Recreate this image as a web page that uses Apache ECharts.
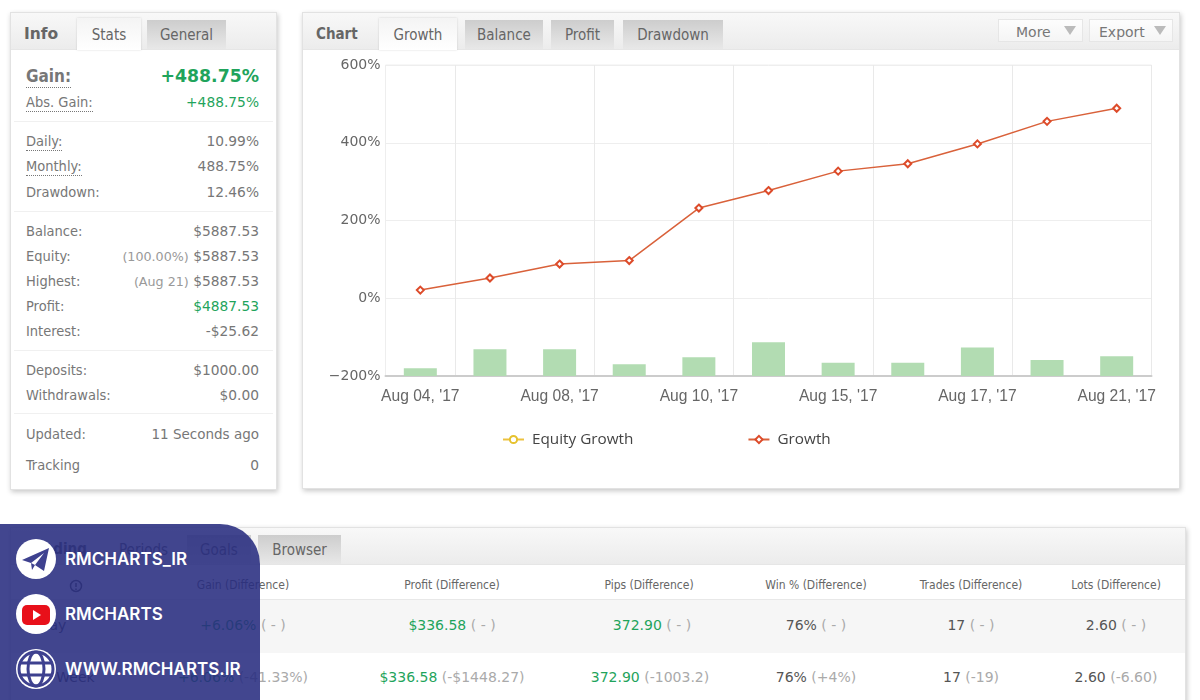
<!DOCTYPE html>
<html lang="en">

<head>
    <meta charset="UTF-8">
    <title>Growth</title>
    <script src="https://cdn.jsdelivr.net/npm/echarts@6/dist/echarts.min.js"></script>
    <style>
        html, body { margin: 0; padding: 0; width: 1200px; height: 700px; overflow: hidden; background: #fff; }
        body { font-family: "DejaVu Sans Condensed", "DejaVu Sans", sans-serif; color: #777; font-size: 14.5px; }
        .panel { position: absolute; background: #fff; border: 1px solid #e2e2e2; box-shadow: 1px 2px 5px rgba(0,0,0,.22); box-sizing: border-box; }
        .head { position: absolute; left: 0; right: 0; top: 0; height: 36px; background: linear-gradient(#f8f8f8, #ececec); border-bottom: 1px solid #e6e6e6; }
        .title { position: absolute; top: 12px; font-weight: bold; color: #666; font-size: 15px; }
        .tab { position: absolute; top: 7px; height: 29px; line-height: 30px; text-align: center; color: #666; background: linear-gradient(#cdcdcd, #e8e8e8); font-size: 15px; }
        .tab.on { top: 5px; height: 32px; line-height: 34px; background: linear-gradient(#f4f4f4, #fff); box-shadow: 0 0 2px rgba(0,0,0,.15); }
        .btn { position: absolute; top: 6px; height: 23px; line-height: 24px; background: linear-gradient(#fdfdfd, #f5f5f5); border: 1px solid #e6e6e6; box-sizing: border-box; font-family: "DejaVu Sans", sans-serif; font-size: 14px; color: #777; padding-left: 17px; }
        .btn i { position: absolute; right: 6px; top: 6px; border: 6px solid transparent; border-top: 9px solid #bbb; border-bottom: 0; }
        .row { position: absolute; left: 15px; right: 17px; height: 20px; line-height: 20px; }
        .row b { font-weight: normal; }
        .row span { position: absolute; right: 0; top: 0; color: #777; white-space: nowrap; font-family: "DejaVu Sans", sans-serif; font-size: 13.8px; }
        .row em { font-style: normal; color: #999; font-size: 12.7px; }
        .dot { border-bottom: 1px dotted #777; padding-bottom: 1px; }
        .green { color: #1fa45c !important; }
        .mute { color: #aaa; }
        .sep { position: absolute; left: 3px; right: 3px; height: 1px; background: #f0f0f0; }
        .cell { position: absolute; transform: translateX(-50%); white-space: nowrap; color: #555; font-family: "DejaVu Sans", sans-serif; }
        .th { font-family: "DejaVu Sans Condensed", sans-serif; font-size: 12px; color: #666; top: 50px; }
        .r1 { top: 89px; font-size: 14px; }
        .r2 { top: 141px; font-size: 14px; }
        #badge { position: absolute; left: 0; top: 524px; width: 260px; height: 176px; background: rgba(40, 44, 128, .88); border-top-right-radius: 40px; }
        .link { position: absolute; left: 65px; color: #fff; font-family: Inter, Roboto, sans-serif; font-weight: 600; font-size: 17px; white-space: nowrap; }
        .ico { position: absolute; left: 16px; width: 40px; height: 40px; }
    </style>
</head>

<body>
    <!-- info panel -->
    <div class="panel" style="left:10px;top:12px;width:267px;height:478px;">
        <div class="head"></div>
        <div class="title" style="left:13px;font-family:'DejaVu Sans';font-size:15.5px;">Info</div>
        <div class="tab on" style="left:66px;width:64px;">Stats</div>
        <div class="tab" style="left:136px;width:79px;">General</div>

        <div class="row" style="top:53px;font-size:17px;"><b class="dot" style="font-weight:bold;">Gain:</b><span class="green" style="font-weight:bold;font-size:17.3px;">+488.75%</span></div>
        <div class="row" style="top:79px;"><b class="dot">Abs. Gain:</b><span class="green">+488.75%</span></div>
        <div class="sep" style="top:108px;"></div>
        <div class="row" style="top:118px;"><b class="dot">Daily:</b><span>10.99%</span></div>
        <div class="row" style="top:143px;"><b class="dot">Monthly:</b><span>488.75%</span></div>
        <div class="row" style="top:169px;"><b>Drawdown:</b><span>12.46%</span></div>
        <div class="sep" style="top:198px;"></div>
        <div class="row" style="top:208px;"><b>Balance:</b><span>$5887.53</span></div>
        <div class="row" style="top:233px;"><b>Equity:</b><span><em>(100.00%)</em> $5887.53</span></div>
        <div class="row" style="top:258px;"><b>Highest:</b><span><em class="mute">(Aug 21)</em> $5887.53</span></div>
        <div class="row" style="top:283px;"><b>Profit:</b><span class="green">$4887.53</span></div>
        <div class="row" style="top:308px;"><b>Interest:</b><span>-$25.62</span></div>
        <div class="sep" style="top:337px;"></div>
        <div class="row" style="top:347px;"><b>Deposits:</b><span>$1000.00</span></div>
        <div class="row" style="top:372px;"><b>Withdrawals:</b><span>$0.00</span></div>
        <div class="sep" style="top:400px;"></div>
        <div class="row" style="top:411px;"><b>Updated:</b><span style="font-size:13.5px;">11 Seconds ago</span></div>
        <div class="row" style="top:442px;"><b>Tracking</b><span>0</span></div>
    </div>

    <!-- chart panel -->
    <div class="panel" style="left:302px;top:12px;width:878px;height:477px;">
        <div class="head"></div>
        <div class="title" style="left:13px;">Chart</div>
        <div class="tab on" style="left:76px;width:78px;">Growth</div>
        <div class="tab" style="left:162px;width:78px;">Balance</div>
        <div class="tab" style="left:248px;width:63px;">Profit</div>
        <div class="tab" style="left:320px;width:100px;">Drawdown</div>
        <div class="btn" style="left:695px;width:85px;">More<i></i></div>
        <div class="btn" style="left:786px;width:84px;padding-left:9px;">Export<i></i></div>
    </div>
    <div id="curve_show" style="position:absolute;left:302px;top:50px;width:878px;height:438px;"></div>

    <!-- trading panel -->
    <div class="panel" style="left:10px;top:527px;width:1176px;height:190px;">
        <div class="head"></div>
        <div class="title" style="left:19px;">Trading</div>
        <div class="tab" style="left:108px;width:47px;background:none;">Periods</div>
        <div class="tab" style="left:176px;width:64px;">Goals</div>
        <div class="tab" style="left:247px;width:83px;">Browser</div>
        <div style="position:absolute;left:0;right:0;top:71px;height:53px;background:#f6f6f6;border-top:1px solid #e8e8e8;"></div>

        <svg style="position:absolute;left:58px;top:51px;" width="14" height="14" viewBox="0 0 14 14">
            <circle cx="7" cy="7" r="5.5" fill="none" stroke="#555" stroke-width="1.5"/>
            <path d="M7 4 V8 M7 9.5 V11" stroke="#555" stroke-width="1.5"/>
        </svg>
        <div class="cell th" style="left:232px;">Gain (Difference)</div>
        <div class="cell th" style="left:441px;">Profit (Difference)</div>
        <div class="cell th" style="left:638px;">Pips (Difference)</div>
        <div class="cell th" style="left:805px;">Win % (Difference)</div>
        <div class="cell th" style="left:960px;">Trades (Difference)</div>
        <div class="cell th" style="left:1105px;">Lots (Difference)</div>

        <div class="cell r1" style="left:35px;">Today</div>
        <div class="cell r1" style="left:232px;"><span class="green">+6.06%</span> <span class="mute">( - )</span></div>
        <div class="cell r1" style="left:441px;"><span class="green">$336.58</span> <span class="mute">( - )</span></div>
        <div class="cell r1" style="left:641px;"><span class="green">372.90</span> <span class="mute">( - )</span></div>
        <div class="cell r1" style="left:805px;">76% <span class="mute">( - )</span></div>
        <div class="cell r1" style="left:960px;">17 <span class="mute">( - )</span></div>
        <div class="cell r1" style="left:1105px;">2.60 <span class="mute">( - )</span></div>

        <div class="cell r2" style="left:48px;">This Week</div>
        <div class="cell r2" style="left:232px;"><span class="green">+6.06%</span> <span class="mute">(-41.33%)</span></div>
        <div class="cell r2" style="left:441px;"><span class="green">$336.58</span> <span class="mute">(-$1448.27)</span></div>
        <div class="cell r2" style="left:639px;"><span class="green">372.90</span> <span class="mute">(-1003.2)</span></div>
        <div class="cell r2" style="left:805px;">76% <span class="mute">(+4%)</span></div>
        <div class="cell r2" style="left:960px;">17 <span class="mute">(-19)</span></div>
        <div class="cell r2" style="left:1105px;">2.60 <span class="mute">(-6.60)</span></div>
    </div>

    <!-- channel badge -->
    <div id="badge">
        <svg class="ico" style="top:15px;" viewBox="0 0 40 40">
            <circle cx="20" cy="20" r="20" fill="#fff"/>
            <path d="M6 21 L33 9 L28 32 L19 26 L16 31 L15 24 Z" fill="#3e418f"/>
            <path d="M15 24 L28 14 L19 26 Z" fill="#fff"/>
        </svg>
        <div class="link" style="top:25px;">RMCHARTS_IR</div>
        <svg class="ico" style="top:70px;" viewBox="0 0 40 40">
            <circle cx="20" cy="20" r="20" fill="#fff"/>
            <rect x="6" y="11" width="28" height="20" rx="5" fill="#e8101a"/>
            <path d="M17 16 L25 21 L17 26 Z" fill="#fff"/>
        </svg>
        <div class="link" style="top:80px;">RMCHARTS</div>
        <svg class="ico" style="top:125px;" viewBox="0 0 40 40">
            <circle cx="20" cy="20" r="20" fill="#fff"/>
            <g fill="none" stroke="#3e418f" stroke-width="3">
                <circle cx="20" cy="20" r="17"/>
                <ellipse cx="20" cy="20" rx="8" ry="17"/>
                <path d="M3 14 H37 M3 26 H37"/>
            </g>
        </svg>
        <div class="link" style="top:135px;">WWW.RMCHARTS.IR</div>
    </div>

    <script>
        var categories = ['Aug 04, \'17', 'Aug 07, \'17', 'Aug 08, \'17', 'Aug 09, \'17', 'Aug 10, \'17', 'Aug 11, \'17',
            'Aug 15, \'17', 'Aug 16, \'17', 'Aug 17, \'17', 'Aug 18, \'17', 'Aug 21, \'17'];
        var growth = [21, 52, 88, 97, 232, 277, 327, 346, 397, 455, 488.75];
        var equityGrowth = [];
        var bars = [20, 69, 69, 30, 48, 87, 34, 34, 73, 41, 51];

        var myChart = echarts.init(document.getElementById('curve_show'));

        var option = {
            animation: false,
            grid: {
                left: 83.5, right: 28.5, top: 15, bottom: 112,
                show: true, borderColor: '#eeeeee', borderWidth: 1
            },
            legend: {
                left: 195,
                top: 377,
                itemWidth: 21,
                itemHeight: 9,
                itemGap: 114,
                data: ['Equity Growth', 'Growth'],
                textStyle: { fontFamily: 'Open Sans', fontSize: 15.3, color: '#444', padding: [0, 0, 0, 3] }
            },
            xAxis: [{
                type: 'category',
                data: categories,
                axisLine: { onZero: false, lineStyle: { color: '#cccccc', width: 2 } },
                axisTick: { show: false },
                axisLabel: {
                    interval: 1,
                    margin: 13,
                    hideOverlap: false,
                    fontFamily: 'Liberation Sans',
                    fontSize: 15.6,
                    color: '#666'
                },
                splitLine: {
                    show: true,
                    interval: function (i) { return i % 2 === 1; },
                    lineStyle: { color: '#e9e9e9' }
                }
            }],
            yAxis: [{
                type: 'value',
                min: -200,
                max: 600,
                interval: 200,
                axisLine: { show: false },
                axisTick: { show: false },
                axisLabel: {
                    margin: 5,
                    padding: [4, 0, 0, 0],
                    fontFamily: 'DejaVu Sans',
                    fontSize: 14,
                    color: '#666',
                    formatter: function (v) { return String(v).replace('-', '\u2212') + '%'; }
                },
                splitLine: { lineStyle: { color: '#eeeeee' } }
            }, {
                // the bars have their own hidden scale
                type: 'value',
                min: 0,
                max: 800,
                show: false,
                splitLine: { show: false }
            }],
            series: [
                {
                    name: 'Volume',
                    type: 'bar',
                    yAxisIndex: 1,
                    barWidth: 33,
                    itemStyle: { color: '#b2dcb2' },
                    data: bars
                },
                {
                    name: 'Equity Growth',
                    type: 'line',
                    symbol: 'circle',
                    symbolSize: 7,
                    lineStyle: { color: '#edc240', width: 1.5 },
                    itemStyle: { color: '#fff', borderColor: '#e6c22e', borderWidth: 2 },
                    data: equityGrowth
                },
                {
                    name: 'Growth',
                    type: 'line',
                    symbol: 'diamond',
                    symbolSize: 7,
                    lineStyle: { color: '#d9613a', width: 1.5 },
                    itemStyle: { color: '#fff', borderColor: '#dd4b2a', borderWidth: 2 },
                    data: growth
                }
            ]
        };

        myChart.setOption(option);
    </script>
</body>

</html>
